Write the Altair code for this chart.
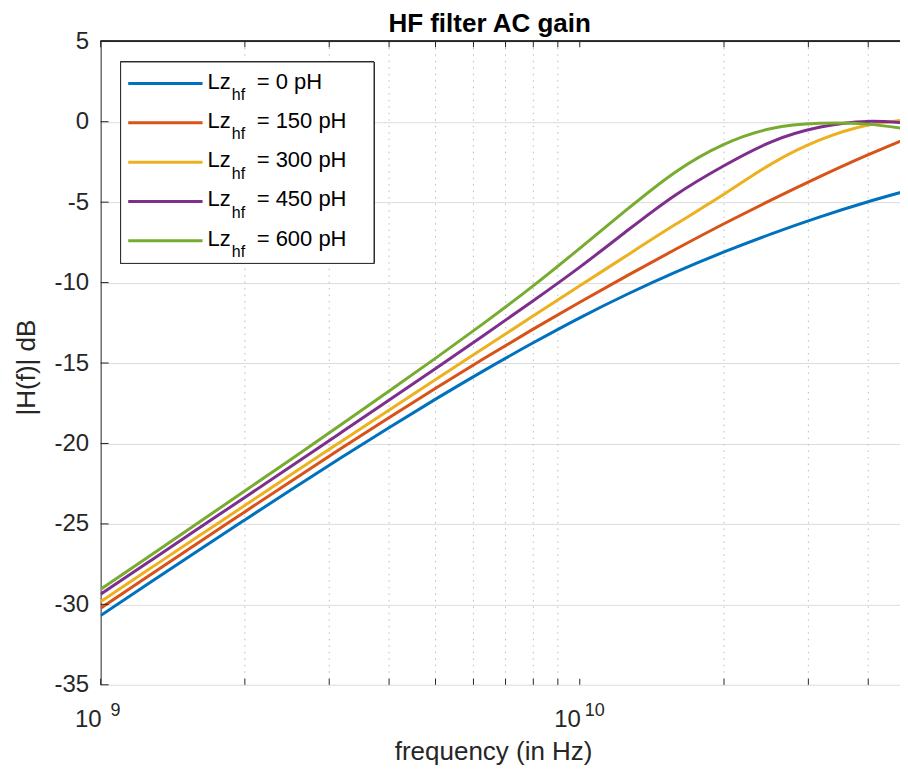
import altair as alt
import pandas as pd

# ---------------- data ----------------
freqs = [1.0e9, 1.259e9, 1.585e9, 1.995e9, 2.512e9, 3.162e9, 3.981e9, 5.012e9, 6.310e9, 7.943e9,
         1.0e10, 1.259e10, 1.585e10, 1.995e10, 2.512e10, 3.162e10, 3.981e10, 5.012e10]
series_names = ["0 pH", "150 pH", "300 pH", "450 pH", "600 pH"]
gain_0pH = [-30.70, -28.71, -26.73, -24.77, -22.83, -20.92, -19.05, -17.23, -15.47, -13.79,
            -12.19, -10.71, -9.35, -8.11, -6.97, -5.93, -4.99, -4.15]
gain_150pH = [-30.24, -28.24, -26.25, -24.27, -22.30, -20.35, -18.43, -16.55, -14.72, -12.94,
              -11.22, -9.55, -7.93, -6.36, -4.86, -3.43, -2.08, -0.83]
gain_300pH = [-29.83, -27.84, -25.85, -23.87, -21.89, -19.92, -17.96, -16.01, -14.07, -12.13,
              -10.20, -8.28, -6.38, -4.53, -2.62, -1.15, -0.22, 0.17]
gain_450pH = [-29.37, -27.37, -25.37, -23.37, -21.37, -19.36, -17.35, -15.32, -13.27, -11.19,
              -9.04, -6.75, -4.55, -2.75, -1.25, -0.35, 0.02, -0.13]
gain_600pH = [-29.06, -27.04, -25.01, -22.97, -20.93, -18.87, -16.79, -14.68, -12.52, -10.27,
              -7.87, -5.42, -3.12, -1.42, -0.42, -0.10, -0.15, -0.54]
colors = ["#0072BD", "#D95319", "#EDB120", "#7E2F8E", "#77AC30"]
legend_values = ["= 0 pH", "= 150 pH", "= 300 pH", "= 450 pH", "= 600 pH"]
y_ticks = [-35, -30, -25, -20, -15, -10, -5, 0, 5]
x_major = [1e9, 1e10]
x_exponents = ["9", "10"]
x_minor = [2e9, 3e9, 4e9, 5e9, 6e9, 7e9, 8e9, 9e9, 2e10, 3e10, 4e10]
chart_title = "HF filter AC gain"
x_title = "frequency (in Hz)"
y_title = "|H(f)| dB"

# ---------------- tables ----------------
all_gains = [gain_0pH, gain_150pH, gain_300pH, gain_450pH, gain_600pH]
rows = []
for name, gains in zip(series_names, all_gains):
    for f, g in zip(freqs, gains):
        rows.append({"freq": f, "gain": g, "series": name})
df = pd.DataFrame(rows)
legend_df = pd.DataFrame({"series": series_names, "label": legend_values})
ytick_df = pd.DataFrame({"v": y_ticks})
xtick_df = pd.DataFrame({"f": x_major + x_minor})
minor_df = pd.DataFrame({"f": x_minor})
xlab_df = pd.DataFrame({"f": x_major, "base": ["10"] * len(x_major), "exp": x_exponents})
text_df = pd.DataFrame({"title": [chart_title], "xtitle": [x_title]})

W, H = 800, 644
FONT = "Liberation Sans"
DARK = "#262626"

x_scale = alt.Scale(type="log", domain=[1e9, 4.66e10], nice=False)
y_scale = alt.Scale(domain=[-35, 5], nice=False, zero=False)
color = alt.Color("series:N", scale=alt.Scale(domain=series_names, range=colors), legend=None)

x_axis = alt.Axis(values=x_major, labels=False, ticks=False, grid=True, gridColor="#dcdcdc",
                  domainColor=DARK, title="")
y_axis = alt.Axis(values=y_ticks, ticks=False, grid=True, gridColor="#dcdcdc", domainColor=DARK,
                  labelExpr="'' + datum.value", labelFont=FONT, labelFontSize=24, labelColor=DARK,
                  labelPadding=12, title=y_title, titleFont=FONT, titleFontSize=26,
                  titleFontWeight="normal", titleColor=DARK, titleAngle=270, titleX=-74, titleY=326,
                  titleAlign="center", titleBaseline="middle")

minor_grid = alt.Chart(minor_df).mark_rule(color="#bdbdbd", strokeWidth=1, strokeDash=[1.5, 5]).encode(
    x=alt.X("f:Q", scale=x_scale, axis=None), y=alt.value(0), y2=alt.value(H))

lines = alt.Chart(df).mark_line(strokeWidth=3, clip=True, interpolate="natural").encode(
    x=alt.X("freq:Q", scale=x_scale, axis=x_axis),
    y=alt.Y("gain:Q", scale=y_scale, axis=y_axis),
    color=color)

yticks = alt.Chart(ytick_df).mark_rule(color=DARK, strokeWidth=1).encode(
    y=alt.Y("v:Q", scale=y_scale, axis=None), x=alt.value(0), x2=alt.value(8))
xticks_bottom = alt.Chart(xtick_df).mark_rule(color=DARK, strokeWidth=1).encode(
    x=alt.X("f:Q", scale=x_scale, axis=None), y=alt.value(H - 6), y2=alt.value(H))
xticks_top = alt.Chart(xtick_df).mark_rule(color=DARK, strokeWidth=1).encode(
    x=alt.X("f:Q", scale=x_scale, axis=None), y=alt.value(0), y2=alt.value(6))
top_border = alt.Chart(ytick_df).mark_rule(color=DARK, strokeWidth=1).encode(
    x=alt.value(0), x2=alt.value(W), y=alt.value(0))

legend_box = alt.Chart(legend_df).mark_rect(fill="white", stroke=DARK, strokeWidth=1).encode(
    x=alt.value(20), x2=alt.value(273.6), y=alt.value(20.7), y2=alt.value(222.3))
ly = alt.Y("series:N", scale=alt.Scale(type="point", domain=series_names, range=[42.3, 199.7], padding=0),
           axis=None)
legend_lines = alt.Chart(legend_df).mark_rule(strokeWidth=3).encode(
    y=ly, x=alt.value(27.6), x2=alt.value(102), color=color)
legend_lz = alt.Chart(legend_df).mark_text(font=FONT, fontSize=22, align="left", baseline="alphabetic",
                                           dy=5, color="black").encode(
    y=ly, x=alt.value(107), text=alt.value("Lz"))
legend_sub = alt.Chart(legend_df).mark_text(font=FONT, fontSize=16, align="left", baseline="alphabetic",
                                            dy=16.5, color="black").encode(
    y=ly, x=alt.value(131.3), text=alt.value("hf"))
legend_val = alt.Chart(legend_df).mark_text(font=FONT, fontSize=22, align="left", baseline="alphabetic",
                                            dy=5, color="black").encode(
    y=ly, x=alt.value(156.2), text="label:N")

xlab_base = alt.Chart(xlab_df).mark_text(font=FONT, fontSize=24, align="center", baseline="alphabetic",
                                         dx=-12.3, color=DARK).encode(
    x=alt.X("f:Q", scale=x_scale, axis=None), y=alt.value(H + 42), text="base:N")
xlab_exp = alt.Chart(xlab_df).mark_text(font=FONT, fontSize=18, align="center", baseline="alphabetic",
                                        dx=15, color=DARK).encode(
    x=alt.X("f:Q", scale=x_scale, axis=None), y=alt.value(H + 31), text="exp:N")

title_text = alt.Chart(text_df).mark_text(font=FONT, fontSize=26, fontWeight="bold", align="center",
                                          baseline="alphabetic", color="black").encode(
    x=alt.value(389.3), y=alt.value(-9.3), text="title:N")
xtitle_text = alt.Chart(text_df).mark_text(font=FONT, fontSize=26, align="center",
                                           baseline="alphabetic", color=DARK).encode(
    x=alt.value(393.3), y=alt.value(H + 75), text="xtitle:N")

chart = alt.layer(
    minor_grid, lines, yticks, xticks_bottom, xticks_top, top_border,
    legend_box, legend_lines, legend_lz, legend_sub, legend_val, xlab_base, xlab_exp,
    title_text, xtitle_text
).resolve_scale(y="independent").properties(
    width=W, height=H,
    autosize=alt.AutoSizeParams(type="none"),
    padding={"left": 92.7, "top": 33, "right": 0, "bottom": 84},
).configure_view(stroke=None)

chart.save("out.html", embed_options={"renderer": "svg", "actions": False})
